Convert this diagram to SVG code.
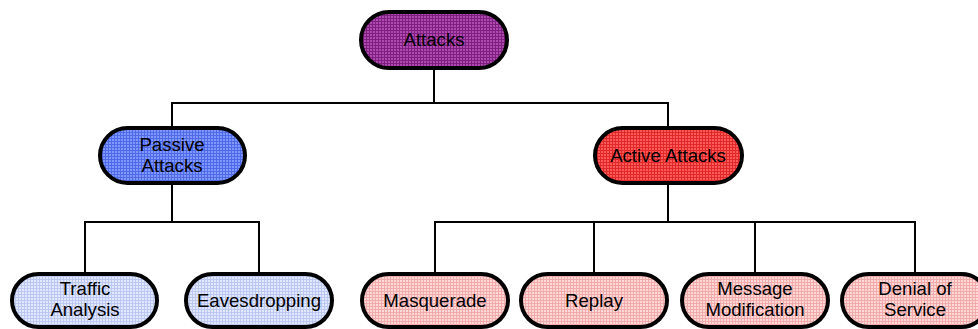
<svg xmlns="http://www.w3.org/2000/svg" width="978" height="329" viewBox="0 0 978 329">
<defs>
<pattern id="pPurple" width="3" height="3" patternUnits="userSpaceOnUse"><rect width="3" height="3" fill="#B04AB0"/><path d="M0 0.5H3M0.5 0V3" stroke="#7E2080" stroke-width="1"/></pattern>
<pattern id="pBlue" width="3" height="3" patternUnits="userSpaceOnUse"><rect width="3" height="3" fill="#8098FF"/><path d="M0 0.5H3M0.5 0V3" stroke="#4E6AE8" stroke-width="1"/></pattern>
<pattern id="pRed" width="3" height="3" patternUnits="userSpaceOnUse"><rect width="3" height="3" fill="#FF5A5A"/><path d="M0 0.5H3M0.5 0V3" stroke="#E02828" stroke-width="1"/></pattern>
<pattern id="pLBlue" width="3" height="3" patternUnits="userSpaceOnUse"><rect width="3" height="3" fill="#E2E8FF"/><path d="M0 0.5H3M0.5 0V3" stroke="#BCC8F2" stroke-width="1"/></pattern>
<pattern id="pPink" width="3" height="3" patternUnits="userSpaceOnUse"><rect width="3" height="3" fill="#FFD8D8"/><path d="M0 0.5H3M0.5 0V3" stroke="#F2AAAA" stroke-width="1"/></pattern>
</defs>
<style>
.n{stroke:#000;stroke-width:4}
.t{font-family:"Liberation Sans",Arial,sans-serif;font-size:18.6px;fill:#000;text-anchor:middle}
.c{fill:none;stroke:#000;stroke-width:2;stroke-linecap:square}
</style>
<rect width="978" height="329" fill="#fff"/>
<g id="connectors">
<path class="c" d="M434 68V103M172 103H668M172 103V128M668 103V127"/>
<path class="c" d="M172 183V222M85 222H259M85 222V273M259 222V273"/>
<path class="c" d="M668 183V222M435 222H915M435 222V273M594 222V273M755 222V273M915 222V273"/>
</g>
<g id="attacks"><rect class="n" x="361" y="12" width="146" height="56" rx="28" fill="url(#pPurple)"/><text class="t" x="434" y="46">Attacks</text></g>
<g id="passive"><rect class="n" x="100" y="128" width="145" height="55" rx="27.5" fill="url(#pBlue)"/><text class="t" x="172" y="151">Passive</text><text class="t" x="172" y="172">Attacks</text></g>
<g id="active"><rect class="n" x="595" y="128" width="147" height="55" rx="27.5" fill="url(#pRed)"/><text class="t" x="668" y="162">Active Attacks</text></g>
<g id="traffic"><rect class="n" x="12" y="274" width="145" height="53" rx="26.5" fill="url(#pLBlue)"/><text class="t" x="85" y="295">Traffic</text><text class="t" x="85" y="316">Analysis</text></g>
<g id="eavesdropping"><rect class="n" x="186" y="274" width="146" height="53" rx="26.5" fill="url(#pLBlue)"/><text class="t" x="259" y="307">Eavesdropping</text></g>
<g id="masquerade"><rect class="n" x="362" y="274" width="146" height="53" rx="26.5" fill="url(#pPink)"/><text class="t" x="435" y="307">Masquerade</text></g>
<g id="replay"><rect class="n" x="521" y="274" width="146" height="53" rx="26.5" fill="url(#pPink)"/><text class="t" x="594" y="307">Replay</text></g>
<g id="modification"><rect class="n" x="682" y="274" width="146" height="53" rx="26.5" fill="url(#pPink)"/><text class="t" x="755" y="295">Message</text><text class="t" x="755" y="316">Modification</text></g>
<g id="dos"><rect class="n" x="842" y="274" width="146" height="53" rx="26.5" fill="url(#pPink)"/><text class="t" x="915" y="295">Denial of</text><text class="t" x="915" y="316">Service</text></g>
</svg>
